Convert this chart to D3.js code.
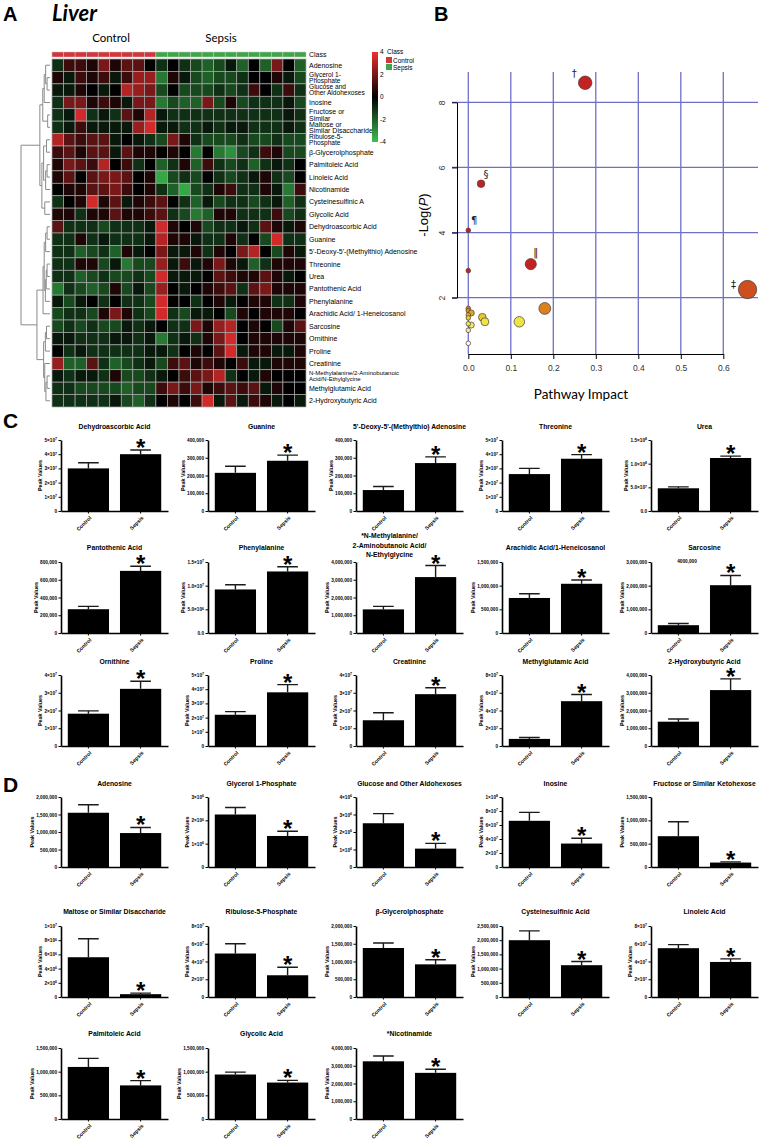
<!DOCTYPE html>
<html>
<head>
<meta charset="utf-8">
<title>Liver metabolomics</title>
<script src="https://cdn.jsdelivr.net/npm/d3@7"></script>
<style>
  body { margin: 0; background: #fff; }
  svg text { font-family: "Liberation Sans", Arial, sans-serif; }
</style>
</head>
<body>
<svg width="761" height="1142"></svg>

<script type="text/javascript">

// ---------- data: panel A heatmap ----------
var rowNames = [
  "Adenosine", "Glycerol 1-|Phosphate", "Glucose and|Other Aldohexoses", "Inosine",
  "Fructose or|Similar", "Maltose or|Similar Disaccharide", "Ribulose-5-|Phosphate",
  "β-Glycerolphosphate", "Palmitoleic Acid", "Linoleic Acid", "Nicotinamide",
  "Cysteinesulfinic A", "Glycolic Acid", "Dehydroascorbic Acid", "Guanine",
  "5'-Deoxy-5'-(Methylthio) Adenosine", "Threonine", "Urea", "Pantothenic Acid",
  "Phenylalanine", "Arachidic Acid/ 1-Heneicosanol", "Sarcosine", "Ornithine", "Proline",
  "Creatinine", "N-Methylalanine/2-Aminobutanoic|Acid/N-Ethylglycine",
  "Methylglutamic Acid", "2-Hydroxybutyric Acid"
];

var sampleClass = ["Control","Control","Control","Control","Control","Control","Control","Control","Control",
  "Sepsis","Sepsis","Sepsis","Sepsis","Sepsis","Sepsis","Sepsis","Sepsis","Sepsis","Sepsis","Sepsis","Sepsis","Sepsis"];

var heat = [
  [-1,1,1,0.5,2,0.5,1.5,1.5,0, -1,0,-1,-1.5,-2,-1.5,-0.5,-2,0,-2,2,0,-2],
  [0.5,-0.5,1,0.5,1,-0.5,1,2.5,2.5, -2.5,0.5,-0.5,-1.5,-2,-1.5,-1.5,-1,0,0,0.5,-0.5,-1.5],
  [-0.5,-0.5,0.5,0,-0.5,0,3,2.5,2, -1.5,0,-1.5,-1.5,-1.5,-1,-1.5,-1,1,0,-1,1,-1],
  [-1,2,2,0.5,1,0.5,-0.5,2,2, -2.5,-1.5,-2,-2,2,-1.5,0.5,-1.5,-1,-1,-1,-0.5,-1.5],
  [-1,-0.5,3.5,-1,-0.5,-1,1.5,0.5,3, -0.5,-1,-1,-1,-1,-1,-1,-1,-1,-1,-1,-0.5,-1],
  [-1,-0.5,1,-0.5,-0.5,-0.5,-0.5,2.5,3.5, -0.5,-0.5,-1,-1,-0.5,-1,-0.5,-0.5,-1,-1,-1,-0.5,-1],
  [3,1.5,1,1.5,1.5,-0.5,0,-0.5,-1, -1.5,2,0.5,-1,-1.5,-1.5,-1.5,-1,-1.5,-1.5,-1,-1.5,-1.5],
  [1,1.5,0.5,1.5,1.5,-0.5,1.5,0.5,0.5, 0,0.5,0,-2.5,0,-2.5,-3,-1.5,-1,1,0.5,-1.5,-1.5],
  [0.5,2,1.5,1,3,0,1,-1,0, -2,-1,0.5,-2,1,-1,-1.5,-1,-2,-1,-0.5,-1,0],
  [0.5,1.5,0,1.5,2,2,1.5,0,0.5, -3.5,-1.5,-1,-1.5,0,-1,-1.5,-1,-0.5,0.5,-1,-1.5,0],
  [0,0.5,0.5,1.5,1.5,2,1,0,0.5, -1,-2,-3.5,-1.5,-1,0.5,1,-1,-1,0.5,-0.5,-2.5,1],
  [-1,0,0.5,3.5,0.5,1.5,-0.5,0.5,1, 1.5,0,-1,-2,-0.5,-1.5,-1,-1,-1.5,-1,-0.5,-2,-1],
  [0.5,0.5,-1,0.5,0.5,1.5,0.5,0.5,1, 1.5,-1,-1.5,-2.5,-2,0.5,0.5,-1,-1,-1,1,-1.5,-1],
  [1.5,-1,-1,-1,-1.5,-1,-1,-1,-0.5, 3.5,0.5,0,0.5,-1.5,-1,-1,-0.5,-1,1.5,0.5,-0.5,0.5],
  [-1,-1,0.5,-1,-0.5,-1,-1,-1,-0.5, 3,0.5,0.5,-0.5,-1,-1,0.5,-1,0,-1.5,3.5,-1,-1],
  [-1,-1,-2,-1.5,-1,-2,0.5,-0.5,0, 2,-0.5,-0.5,0.5,-1,0.5,0,2,3,0,-1.5,0.5,-0.5],
  [-1,-1,0.5,0.5,-1.5,-0.5,-2.5,-1.5,-1.5, 2.5,-0.5,1,-0.5,0.5,2,0.5,-0.5,-2,-1,0.5,0.5,0.5],
  [-1,-1,-2,-1.5,-1,-1.5,-1.5,-1,-1.5, 3.5,-0.5,-0.5,-0.5,0,1.5,1,0.5,0.5,1.5,0.5,-0.5,0],
  [-2.5,-1,-1.5,-2,-1.5,0.5,-1.5,-0.5,-1.5, 2.5,0,-0.5,0,0.5,1,1.5,-1,1.5,2,0.5,0.5,0.5],
  [-0.5,-1.5,-0.5,0,-1,0,-1,-1,-1.5, 3.5,0,0,-1,0,0.5,-0.5,0,0.5,0.5,-1,-1,0.5],
  [-1.5,-1,-1,-1.5,0.5,2,0.5,-1,-1.5, 3.5,-1,-1.5,-0.5,-0.5,0,-1.5,0.5,0,0.5,0.5,0.5,0],
  [-1.5,-1,-1.5,-1,-1.5,-1.5,-0.5,-1,-0.5, 0,-1,-1,2,0.5,2.5,3,0,0.5,0,-1.5,0.5,1.5],
  [-0.5,-0.5,-1,-1,-1,-0.5,-0.5,-1,-0.5, -2.5,-1,-0.5,-1,0.5,2,3.5,0,0.5,0.5,0.5,0.5,0.5],
  [0,-1,-0.5,-1,-1,-1,-1,-1,-0.5, -0.5,-1,0,0.5,0,1.5,3.5,-0.5,0.5,0.5,-0.5,-0.5,0.5],
  [2.5,-2,-2,1.5,-1,-2,-1.5,-1,-0.5, -1.5,1,1.5,0.5,1,0.5,0,1,-0.5,-0.5,0.5,0.5,0.5],
  [-0.5,-1,-0.5,-0.5,-1,0.5,-1.5,-1.5,-1, -0.5,0,1,1.5,2,3,-1,0,-0.5,0.5,0,0,0],
  [-1,-1,-1.5,-1.5,-1.5,-1.5,-2,-1.5,-1.5, 1,2,1,2,0.5,1,1.5,1,1.5,-0.5,0.5,0,0],
  [-1,-1,-1,-1,-1,-0.5,-1.5,-2,-1, 0,0.5,0,1,3.5,-0.5,1.5,-0.5,1,0.5,-0.5,0,-0.5]
];

// row dendrogram: [merge height, left, right]; leaves are row indices
var rowTree = [1.0,
  [0.35,
    [0.25, [0.2, [0.15, 0, [0.1, 1, 2]], 3], [0.08, 4, 5]],
    [0.28, [0.22, [0.12, 6, 7], [0.15, [0.1, 8, 9], 10]], [0.18, 11, 12]]],
  [0.45,
    [0.24, [0.2, [0.15, [0.1, 13, 14], 15], [0.16, [0.13, [0.1, 16, 17], 18], 19]], 20],
    [0.22, [0.16, [0.12, 21, 22], 23], [0.18, 24, [0.14, [0.1, 25, 26], 27]]]]];

var legendTicks = [4, 2, 0, -2, -4];

// ---------- data: panel B pathway impact ----------
var pathImpact = [0.275, 0.657, 0.030, 0.000, 0.147, 0.000, 0.180, 0.120, 0.033, 0.039, 0.000, 0.000, 0.007, 0.000, 0.000, 0.007, 0.000, 0.000, 0.000];
var pathLogP   = [8.60, 2.25, 5.50, 4.07, 3.03, 2.83, 1.67, 1.26, 1.40, 1.26, 1.67, 1.60, 1.53, 1.47, 1.38, 1.16, 1.20, 1.00, 0.60];
var pathMarks  = ["†", "‡", "§", "¶", "‖"];
var impactTicks = [0, 0.1, 0.2, 0.3, 0.4, 0.5, 0.6];
var logPTicks = [2, 4, 6, 8];

// ---------- data: panels C and D bar charts ----------
var groups = ["Control", "Sepsis"];
var barTitles = [
  "Dehydroascorbic Acid", "Guanine", "5'-Deoxy-5'-(Methylthio) Adenosine", "Threonine", "Urea",
  "Pantothenic Acid", "Phenylalanine", "*N-Methylalanine/|2-Aminobutanoic Acid/|N-Ethylglycine",
  "Arachidic Acid/1-Heneicosanol", "Sarcosine",
  "Ornithine", "Proline", "Creatinine", "Methylglutamic Acid", "2-Hydroxybutyric Acid",
  "Adenosine", "Glycerol 1-Phosphate", "Glucose and  Other Aldohexoses", "Inosine", "Fructose or Similar Ketohexose",
  "Maltose or Similar Disaccharide", "Ribulose-5-Phosphate", "β-Glycerolphosphate", "Cysteinesulfinic Acid", "Linoleic Acid",
  "Palmitoleic Acid", "Glycolic Acid", "*Nicotinamide"
];
var ctrlMean = [3.0e7, 215000, 118000, 2.6e7, 4.8e7, 268000, 9.2e6, 1330000, 740000, 330000,
  1.82e7, 2.2e7, 1.45e7, 8.0e6, 1370000,
  1550000, 2.25e6, 2.5e6, 6.6e7, 660000, 5.6e6, 4.9e7, 1380000, 2000000, 5.5e7, 1100000, 940000, 3250000];
var ctrlErr = [3.4e7, 252000, 138000, 3.0e7, 5.1e7, 300000, 1.02e7, 1500000, 830000, 400000,
  1.98e7, 2.42e7, 1.87e7, 9.5e6, 1520000,
  1780000, 2.55e6, 3.05e6, 7.8e7, 970000, 8.2e6, 6.0e7, 1520000, 2330000, 5.9e7, 1280000, 990000, 3550000];
var sepMean = [4.0e7, 283000, 270000, 3.68e7, 1.12e8, 700000, 1.3e7, 3150000, 1040000, 2020000,
  3.22e7, 3.78e7, 2.92e7, 5.05e7, 3150000,
  970000, 1.33e6, 1.05e6, 3.35e7, 95000, 0.4e6, 2.45e7, 920000, 1120000, 3.95e7, 710000, 770000, 2600000];
var sepErr = [4.3e7, 315000, 305000, 3.97e7, 1.16e8, 752000, 1.4e7, 3800000, 1120000, 2430000,
  3.65e7, 4.32e7, 3.28e7, 5.8e7, 3780000,
  1130000, 1.53e6, 1.35e6, 4.1e7, 110000, 0.55e6, 3.35e7, 1050000, 1250000, 4.3e7, 810000, 815000, 2800000];
var yMax = [5e7, 4e5, 4e5, 5e7, 1.5e8, 8e5, 1.5e7, 4e6, 1.5e6, 3e6,
  4e7, 5e7, 4e7, 8e7, 4e6,
  2e6, 3e6, 4e6, 1e8, 1.5e6, 1e7, 8e7, 2e6, 2.5e6, 8e7, 1.5e6, 1.5e6, 4e6];
var yStep = [1e7, 1e5, 1e5, 1e7, 5e7, 2e5, 5e6, 1e6, 5e5, 1e6,
  1e7, 1e7, 1e7, 2e7, 1e6,
  5e5, 1e6, 1e6, 2e7, 5e5, 2e6, 2e7, 5e5, 5e5, 2e7, 5e5, 5e5, 1e6];
var yFmt = ["sci", "comma", "comma", "sci", "sci1", "comma", "sci1", "comma", "comma", "comma",
  "sci", "sci", "sci", "sci", "comma",
  "comma", "sci", "sci", "sci", "comma", "sci", "sci", "comma", "comma", "sci", "comma", "comma", "comma"];

// ---------- layout ----------
var svg = d3.select("svg");
var FONT = "Liberation Sans, Arial, sans-serif";
var SOFT = "Lato, 'Open Sans', sans-serif";

// ================= Panel A =================
svg.append("text").attr("x", 3).attr("y", 21).attr("font-size", 20).attr("font-weight", "bold").text("A");
svg.append("text").attr("x", 52).attr("y", 21).attr("font-size", 22).attr("font-weight", "bold")
  .attr("font-style", "italic").style("font-family", SOFT).text("Liver");

var hmX = d3.scaleBand().domain(d3.range(sampleClass.length)).range([52, 306]);
var hmY = d3.scaleBand().domain(d3.range(rowNames.length)).range([59, 407]);
var heatColor = d3.scaleLinear().domain([-4, 0, 4]).range(["#3cc050", "#000000", "#f03030"]).clamp(true);

svg.append("text").attr("x", 111).attr("y", 42).attr("text-anchor", "middle").attr("font-size", 11.5)
  .style("font-family", SOFT).text("Control");
svg.append("text").attr("x", 221).attr("y", 42).attr("text-anchor", "middle").attr("font-size", 11.5)
  .style("font-family", SOFT).text("Sepsis");

var gA = svg.append("g");
gA.selectAll("rect.cls").data(sampleClass).enter().append("rect")
  .attr("class", "cls")
  .attr("x", function(d, i) { return hmX(i); })
  .attr("y", 52).attr("width", hmX.bandwidth()).attr("height", 5)
  .attr("fill", function(d) { return d == "Control" ? "#d3353a" : "#3fa648"; })
  .attr("stroke", "#c8c8c8").attr("stroke-width", 0.5);

heat.forEach(function(row, r) {
  gA.selectAll(null).data(row).enter().append("rect")
    .attr("x", function(d, i) { return hmX(i); })
    .attr("y", hmY(r))
    .attr("width", hmX.bandwidth()).attr("height", hmY.bandwidth())
    .attr("fill", function(d) { return heatColor(d); })
    .attr("stroke", "#a8a8a8").attr("stroke-width", 0.7);
});

svg.append("text").attr("x", 309).attr("y", 57).attr("font-size", 7).attr("fill", "#000").text("Class");

rowNames.forEach(function(name, r) {
  var lines = name.split("|");
  var fs = lines.length > 1 ? (name.length > 40 ? 6 : 6.6) : 7;
  if (name.indexOf("Fructose") == 0 || name.indexOf("Maltose") == 0) fs = 7;
  var cy = hmY(r) + hmY.bandwidth() / 2;
  var t = gA.append("text").attr("font-size", fs).attr("fill", "#000");
  lines.forEach(function(ln, k) {
    t.append("tspan").attr("x", 309)
      .attr("y", cy + (k - (lines.length - 1) / 2) * fs * 0.92)
      .attr("dy", "0.35em").text(ln);
  });
});

// dendrogram
var dendX = d3.scaleLinear().domain([0, 1]).range([50, 21]);
var gDen = svg.append("g").attr("stroke", "#8a8a8a").attr("stroke-width", 1).attr("fill", "none");
function drawTree(node) {
  if (typeof node === "number") return { x: dendX(0), y: hmY(node) + hmY.bandwidth() / 2 };
  var a = drawTree(node[1]), b = drawTree(node[2]);
  var x = dendX(node[0]);
  gDen.append("path").attr("d", "M" + a.x + "," + a.y + "H" + x + "V" + b.y + "H" + b.x);
  return { x: x, y: (a.y + b.y) / 2 };
}
drawTree(rowTree);

// colour legend
var grad = svg.append("defs").append("linearGradient").attr("id", "hmgrad")
  .attr("x1", 0).attr("y1", 0).attr("x2", 0).attr("y2", 1);
grad.selectAll("stop").data(legendTicks).enter().append("stop")
  .attr("offset", function(d) { return (4 - d) / 8; })
  .attr("stop-color", function(d) { return heatColor(d); });
var lgY = d3.scaleLinear().domain([4, -4]).range([52, 142]);
svg.append("rect").attr("x", 372).attr("y", lgY(4)).attr("width", 6).attr("height", lgY(-4) - lgY(4))
  .attr("fill", "url(#hmgrad)");
svg.selectAll("text.lg").data(legendTicks).enter().append("text")
  .attr("class", "lg").attr("x", 380).attr("y", function(d) { return lgY(d); })
  .attr("dy", "0.35em").attr("font-size", 6.5).text(function(d) { return d; });

svg.append("text").attr("x", 387).attr("y", 54).attr("font-size", 6.5).text("Class");
svg.selectAll("rect.lgc").data(groups).enter().append("rect")
  .attr("class", "lgc").attr("x", 386).attr("y", function(d, i) { return 57 + i * 7; })
  .attr("width", 6).attr("height", 6)
  .attr("fill", function(d) { return d == "Control" ? "#d3353a" : "#3fa648"; });
svg.selectAll("text.lgct").data(groups).enter().append("text")
  .attr("class", "lgct").attr("x", 393).attr("y", function(d, i) { return 62.5 + i * 7; })
  .attr("font-size", 6.5).text(function(d) { return d; });

// ================= Panel B =================
svg.append("text").attr("x", 434).attr("y", 21).attr("font-size", 20).attr("font-weight", "bold").text("B");

var bx = d3.scaleLinear().domain([0, 0.6]).range([468.3, 723.3]);
var by = d3.scaleLinear().domain([2, 8]).range([297.7, 102.3]);
var bubbleR = d3.scaleSqrt().domain([0, 0.657]).range([2.3, 9.2]);
var bubbleColor = d3.scaleLinear().domain([0.6, 1.0, 1.3, 1.5, 1.7, 2.3, 2.8])
  .range(["#fbfbee", "#f3eeaa", "#ece438", "#dcae22", "#d87a1e", "#cc4a20", "#c22222"]).clamp(true);

var gB = svg.append("g");
gB.selectAll("line.vg").data(impactTicks).enter().append("line")
  .attr("x1", function(d) { return bx(d); }).attr("x2", function(d) { return bx(d); })
  .attr("y1", 72).attr("y2", 354).attr("stroke", "#6f6fc8").attr("stroke-width", 1.3);
gB.selectAll("line.hg").data(logPTicks).enter().append("line")
  .attr("x1", 452).attr("x2", 758)
  .attr("y1", function(d) { return by(d); }).attr("y2", function(d) { return by(d); })
  .attr("stroke", "#6f6fc8").attr("stroke-width", 1.3);

var yAxB = gB.append("g").attr("transform", "translate(457,0)")
  .call(d3.axisLeft(by).tickValues(logPTicks).tickSize(5).tickSizeOuter(0).tickFormat(d3.format("d")));
yAxB.selectAll(".tick text").attr("font-family", FONT).attr("font-size", 8.5).attr("fill", "#333")
  .attr("text-anchor", "middle").attr("x", 0).attr("dy", 0)
  .attr("transform", "translate(-12,0) rotate(-90)");
var xAxB = gB.append("g").attr("transform", "translate(0,354)")
  .call(d3.axisBottom(bx).tickValues(impactTicks).tickSize(5).tickSizeOuter(0).tickFormat(d3.format(".1f")));
xAxB.selectAll(".tick text").attr("font-family", FONT).attr("font-size", 8.5).attr("fill", "#333").attr("y", 11);

d3.range(pathLogP.length).forEach(function(i) {
  gB.append("circle")
    .attr("cx", bx(pathImpact[i])).attr("cy", by(pathLogP[i]))
    .attr("r", bubbleR(pathImpact[i]))
    .attr("fill", bubbleColor(pathLogP[i]))
    .attr("stroke", "#4a3a30").attr("stroke-width", 0.7);
});

var markOffset = [[-11, -6], [-14, -2], [5, -6], [6, -6], [5, -8]];
pathMarks.forEach(function(m, i) {
  gB.append("text")
    .attr("x", bx(pathImpact[i]) + markOffset[i][0])
    .attr("y", by(pathLogP[i]) + markOffset[i][1])
    .attr("text-anchor", "middle").attr("font-size", 10).attr("fill", "#222")
    .style("font-family", "'DejaVu Sans', sans-serif").text(m);
});

var yLab = svg.append("text").attr("transform", "translate(428,215) rotate(-90)")
  .attr("text-anchor", "middle").attr("font-size", 13);
yLab.append("tspan").text("-Log(");
yLab.append("tspan").attr("font-style", "italic").text("P");
yLab.append("tspan").text(")");
svg.append("text").attr("x", 581).attr("y", 399).attr("text-anchor", "middle").attr("font-size", 13.5)
  .style("font-family", SOFT).text("Pathway Impact");

// ================= Panels C & D =================
svg.append("text").attr("x", 3).attr("y", 428).attr("font-size", 21).attr("font-weight", "bold").text("C");
svg.append("text").attr("x", 3).attr("y", 792).attr("font-size", 21).attr("font-weight", "bold").text("D");

var rowsC = [{ t: 429, top: 440, zero: 511 }, { t: 550, top: 562, zero: 633 }, { t: 664, top: 675, zero: 746 }];
var rowsD = [{ t: 786, top: 797, zero: 867 }, { t: 914, top: 926, zero: 997 }, { t: 1036, top: 1048, zero: 1119 }];
var colX = [61, 208, 356, 502, 651];
var plotW = 107;
var titleDx = { 7: -20 };

function tickLabel(sel, fmt) {
  sel.each(function(v) {
    var t = d3.select(this).text(null);
    if (fmt === "comma") { t.text(d3.format(",")(v)); return; }
    if (v === 0) { t.text(fmt === "sci1" ? "0.0" : "0"); return; }
    var e = Math.floor(Math.log10(v) + 1e-9), m = v / Math.pow(10, e);
    t.append("tspan").text((fmt === "sci1" ? m.toFixed(1) : Math.round(m)) + "×10");
    t.append("tspan").attr("dy", "-0.45em").attr("font-size", "75%").text(e);
  });
}

function drawBars(i, ax, lay) {
  var g = svg.append("g");
  var x = d3.scaleBand().domain(groups).range([ax, ax + plotW]).paddingInner(0.21).paddingOuter(0.13);
  var y = d3.scaleLinear().domain([0, yMax[i]]).range([lay.zero, lay.top]);
  var means = [ctrlMean[i], sepMean[i]], tops = [ctrlErr[i], sepErr[i]];

  // error bars (upper only)
  g.selectAll("path.eb").data(groups).enter().append("path")
    .attr("d", function(d, j) {
      var cx = x(d) + x.bandwidth() / 2, cw = x.bandwidth() * 0.25;
      return "M" + cx + "," + y(means[j]) + "V" + y(tops[j]) + "M" + (cx - cw) + "," + y(tops[j]) + "H" + (cx + cw);
    })
    .attr("stroke", "#1a1a1a").attr("stroke-width", 1.4).attr("fill", "none");

  g.selectAll("rect").data(groups).enter().append("rect")
    .attr("x", function(d) { return x(d); })
    .attr("y", function(d, j) { return y(means[j]); })
    .attr("width", x.bandwidth())
    .attr("height", function(d, j) { return lay.zero - y(means[j]); })
    .attr("fill", "#000");

  var ticks = d3.range(0, Math.round(yMax[i] / yStep[i]) + 1).map(function(n) { return n * yStep[i]; });
  var ya = g.append("g").attr("transform", "translate(" + ax + ",0)")
    .call(d3.axisLeft(y).tickValues(ticks).tickSize(2.5).tickSizeOuter(0).tickPadding(1.5));
  ya.attr("font-family", FONT).attr("font-size", 4.7).attr("font-weight", "bold");
  ya.select(".domain").attr("stroke-width", 1.6);
  ya.selectAll(".tick text").call(tickLabel, yFmt[i]);

  var xa = g.append("g").attr("transform", "translate(0," + lay.zero + ")")
    .call(d3.axisBottom(x).tickSize(2.5).tickSizeOuter(0));
  xa.attr("font-family", FONT).attr("font-size", 5.2).attr("font-weight", "bold");
  xa.select(".domain").attr("stroke-width", 1.6);
  xa.selectAll(".tick text").attr("x", 0).attr("y", 0).attr("dy", "0.35em")
    .attr("text-anchor", "end").attr("transform", "translate(2,6) rotate(-45)");

  var bb = ya.node().getBBox();
  g.append("text")
    .attr("transform", "translate(" + (ax + bb.x - 2.5) + "," + ((lay.top + lay.zero) / 2) + ") rotate(-90)")
    .attr("text-anchor", "middle").attr("font-size", 5.4).attr("font-weight", "bold").text("Peak Values");

  var lines = barTitles[i].split("|");
  var tt = g.append("text").attr("text-anchor", "middle").attr("font-size", 6.8).attr("font-weight", "bold");
  lines.forEach(function(ln, k) {
    tt.append("tspan").attr("x", ax + plotW / 2 + (titleDx[i] || 0))
      .attr("y", lines.length > 1 ? lay.t - 12 + k * 9.5 : lay.t).text(ln);
  });

  g.append("text").attr("x", x("Sepsis") + x.bandwidth() / 2).attr("y", y(sepErr[i]) + 6)
    .attr("text-anchor", "middle").attr("font-size", 24).attr("font-weight", "bold").text("*");
}

barTitles.forEach(function(title, i) {
  var k = i < 15 ? i : i - 15;
  var lay = (i < 15 ? rowsC : rowsD)[Math.floor(k / 5)];
  drawBars(i, colX[k % 5], lay);
});

// stray label printed inside the Sarcosine graph
svg.append("text").attr("x", 687).attr("y", 563).attr("text-anchor", "middle")
  .attr("font-size", 4.7).attr("font-weight", "bold").text("4000,000");

</script>
</body>
</html>
